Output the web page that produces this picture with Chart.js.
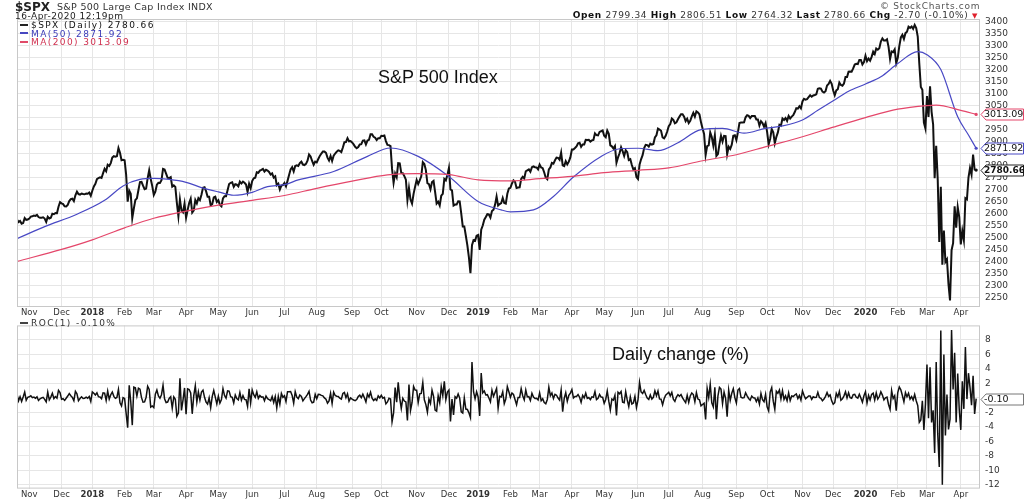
<!DOCTYPE html>
<html>
<head>
<meta charset="utf-8">
<script src="https://cdn.jsdelivr.net/npm/chart.js@4.4.1/dist/chart.umd.min.js"></script>
<style>
body { margin: 0; background: #fff; width: 1024px; height: 499px; overflow: hidden; position: relative; font-family: "DejaVu Sans", sans-serif; }
canvas { position: absolute; left: 0; }
#top { top: 0; }
#bot { top: 315px; }
.t { position: absolute; white-space: nowrap; color: #222; line-height: 1; }
.leg { position: absolute; white-space: nowrap; font-size: 9px; letter-spacing: 1.4px; line-height: 1; }
.leg i { display: inline-block; width: 8px; height: 2px; vertical-align: middle; margin-right: 3px; position: relative; top: -1px; }
.note { position: absolute; white-space: nowrap; color: #111; font-family: "Liberation Sans", Arial, sans-serif; font-size: 18px; line-height: 1; }
</style>
</head>
<body>
<canvas id="top" width="1024" height="318"></canvas>
<canvas id="bot" width="1024" height="184"></canvas>

<div class="t" style="left:15px;top:1px;font-size:12px;font-weight:bold">$SPX</div>
<div class="t" style="left:57px;top:2px;font-size:9.5px;letter-spacing:0.3px;color:#333">S&amp;P 500 Large Cap Index INDX</div>
<div class="t" style="left:15px;top:12px;font-size:9px;letter-spacing:0.5px;color:#222">16-Apr-2020 12:19pm</div>
<div class="t" style="left:880px;top:2px;font-size:9px;letter-spacing:0.7px;color:#555">&copy; StockCharts.com</div>
<div class="t" style="right:46px;top:11px;font-size:9px;letter-spacing:0.65px;color:#333"><b style="color:#111">Open</b> 2799.34 <b style="color:#111">High</b> 2806.51 <b style="color:#111">Low</b> 2764.32 <b style="color:#111">Last</b> 2780.66 <b style="color:#111">Chg</b> -2.70 (-0.10%) <span style="color:#e0202c;font-size:7px">&#9660;</span></div>

<div class="leg" style="left:20px;top:21px;color:#111"><i style="background:#222"></i>$SPX (Daily) 2780.66</div>
<div class="leg" style="left:20px;top:29.5px;color:#3a3ab8"><i style="background:#4646c0"></i>MA(50) 2871.92</div>
<div class="leg" style="left:20px;top:38px;color:#d0304f"><i style="background:#e04a68"></i>MA(200) 3013.09</div>
<div class="leg" style="left:20px;top:319px;color:#333"><i style="background:#444"></i>ROC(1) -0.10%</div>

<div class="note" style="left:378px;top:68px">S&amp;P 500 Index</div>
<div class="note" style="left:612px;top:345px">Daily change (%)</div>

<script>
// trading days shown: 20-Oct-2017 .. 16-Apr-2020
const firstDay = '2017-10-20';
const lastDay = '2020-04-16';
const holidays = ['2017-11-23', '2017-12-25', '2018-01-01', '2018-01-15', '2018-02-19', '2018-03-30', '2018-05-28',
    '2018-07-04', '2018-09-03', '2018-11-22', '2018-12-05', '2018-12-25', '2019-01-01', '2019-01-21', '2019-02-18',
    '2019-04-19', '2019-05-27', '2019-07-04', '2019-09-02', '2019-11-28', '2019-12-25', '2020-01-01', '2020-01-20',
    '2020-02-17', '2020-04-10'];
const monthNames = ['Jan', 'Feb', 'Mar', 'Apr', 'May', 'Jun', 'Jul', 'Aug', 'Sep', 'Oct', 'Nov', 'Dec'];

// $SPX daily close, one value per trading day
const spx2017 = [
    2575, 2564, 2569, 2557, 2560, 2581, 2573, 2575,
    2579, 2587, 2588, 2591, 2590, 2594, 2585, 2582, 2582, 2584, 2579, 2565, 2586, 2579, 2582, 2599, 2597, 2602, 2601, 2628, 2647,
    2642, 2639, 2630, 2629, 2636, 2652, 2660, 2662, 2652, 2676, 2691, 2681, 2679, 2683, 2681, 2680, 2683, 2682, 2687, 2674
];
const spx2018 = [
    2695, 2713, 2724, 2743, 2748, 2751, 2748, 2768, 2786, 2776, 2803, 2798, 2810, 2833, 2839, 2837, 2839, 2873, 2853, 2822, 2824,
    2822, 2762, 2649, 2695, 2682, 2581, 2620, 2656, 2663, 2698, 2731, 2732, 2716, 2701, 2704, 2747, 2780, 2744, 2714,
    2677, 2691, 2720, 2728, 2727, 2739, 2786, 2783, 2766, 2749, 2748, 2752, 2712, 2717, 2711, 2644, 2588, 2658, 2612, 2605, 2641,
    2582, 2614, 2644, 2662, 2604, 2613, 2656, 2642, 2664, 2656, 2678, 2707, 2709, 2693, 2670, 2670, 2634, 2639, 2667, 2670, 2648,
    2655, 2636, 2630, 2663, 2672, 2672, 2697, 2723, 2728, 2730, 2711, 2722, 2720, 2713, 2733, 2725, 2733, 2728, 2721, 2690, 2724, 2705,
    2735, 2747, 2749, 2772, 2770, 2779, 2782, 2786, 2775, 2782, 2779, 2773, 2762, 2767, 2750, 2755, 2718, 2724, 2700, 2716, 2718,
    2727, 2713, 2736, 2760, 2784, 2793, 2775, 2798, 2801, 2798, 2810, 2816, 2804, 2802, 2807, 2820, 2846, 2838, 2819, 2803, 2816,
    2813, 2827, 2840, 2850, 2858, 2858, 2853, 2833, 2821, 2840, 2819, 2841, 2850, 2858, 2863, 2861, 2856, 2875, 2897, 2898, 2914, 2901, 2902,
    2896, 2888, 2878, 2872, 2877, 2888, 2889, 2904, 2905, 2888, 2904, 2907, 2930, 2930, 2920, 2916, 2906, 2914, 2914,
    2924, 2923, 2925, 2902, 2886, 2885, 2881, 2786, 2728, 2767, 2751, 2810, 2809, 2769, 2768, 2756, 2741, 2656, 2706, 2658, 2641, 2682, 2712,
    2740, 2723, 2738, 2755, 2814, 2806, 2781, 2726, 2722, 2701, 2731, 2736, 2690, 2641, 2649, 2633, 2674, 2682, 2744, 2738, 2760,
    2790, 2700, 2696, 2633, 2637, 2637, 2651, 2650, 2600, 2546, 2546, 2507, 2467, 2417, 2351, 2468, 2489, 2486, 2507
];
const spx2019 = [
    2510, 2448, 2532, 2550, 2574, 2585, 2597, 2596, 2583, 2610, 2616, 2636, 2671, 2633, 2639, 2643, 2665, 2644, 2641, 2682, 2704,
    2707, 2725, 2738, 2732, 2706, 2708, 2709, 2744, 2753, 2746, 2776, 2780, 2784, 2774, 2793, 2796, 2793, 2792, 2784,
    2804, 2792, 2789, 2771, 2749, 2743, 2784, 2792, 2811, 2808, 2822, 2833, 2832, 2824, 2854, 2801, 2798, 2818, 2805, 2816, 2834,
    2867, 2867, 2873, 2880, 2893, 2895, 2878, 2888, 2888, 2907, 2906, 2907, 2900, 2905, 2907, 2934, 2927, 2926, 2940, 2943, 2946,
    2924, 2918, 2946, 2932, 2884, 2880, 2871, 2881, 2812, 2834, 2851, 2876, 2860, 2840, 2864, 2856, 2823, 2826, 2802, 2783, 2789, 2752,
    2744, 2803, 2826, 2843, 2873, 2886, 2885, 2879, 2891, 2887, 2890, 2917, 2926, 2954, 2950, 2945, 2917, 2913, 2924, 2942,
    2964, 2973, 2996, 2990, 2976, 2980, 2993, 3004, 3014, 3014, 3004, 2985, 2995, 2977, 2986, 3005, 3020, 3004, 3026, 3021, 3013, 2980,
    2954, 2932, 2844, 2881, 2884, 2938, 2919, 2883, 2926, 2840, 2848, 2889, 2924, 2900, 2924, 2923, 2847, 2878, 2869, 2887, 2924, 2926,
    2906, 2938, 2977, 2979, 2979, 2980, 3001, 3010, 3007, 2998, 3006, 3006, 3006, 2992, 2992, 2967, 2985, 2977, 2962, 2977,
    2940, 2888, 2911, 2952, 2939, 2893, 2919, 2938, 2970, 2966, 2996, 2990, 2998, 2986, 3007, 2996, 3004, 3010, 3023, 3039, 3037, 3047, 3038,
    3067, 3078, 3075, 3077, 3085, 3093, 3087, 3092, 3094, 3097, 3120, 3122, 3121, 3108, 3104, 3110, 3134, 3140, 3153, 3141,
    3113, 3093, 3113, 3118, 3146, 3136, 3133, 3142, 3169, 3169, 3191, 3192, 3191, 3205, 3221, 3224, 3223, 3240, 3240, 3221, 3231
];
const spx2020 = [
    3258, 3235, 3246, 3237, 3253, 3275, 3265, 3288, 3283, 3289, 3317, 3330, 3321, 3321, 3326, 3295, 3244, 3276, 3273, 3284, 3226,
    3249, 3298, 3334, 3345, 3328, 3352, 3358, 3379, 3374, 3380, 3370, 3386, 3373, 3338, 3226, 3128, 3116, 2979, 2954,
    3090, 3003, 3130, 3024, 2972, 2747, 2882, 2741, 2481, 2711, 2386, 2529, 2398, 2409, 2305, 2237, 2447, 2476, 2630, 2541, 2627, 2585,
    2471, 2527, 2489, 2664, 2659, 2750, 2790, 2762, 2846, 2783, 2781
];

// ROC(1), daily change in percent, one value per trading day
const roc2017 = [
    0.51, -0.40, 0.16, -0.47, 0.13, 0.81, -0.32, 0.09,
    0.16, 0.31, 0.04, 0.12, -0.04, 0.15, -0.35, -0.12, 0.00, 0.08, -0.19, -0.54, 0.81, -0.27, 0.12, 0.65, -0.08, 0.19, -0.04, 1.04, 0.73,
    -0.19, -0.11, -0.34, -0.04, 0.26, 0.60, 0.30, 0.08, -0.38, 0.91, 0.56, -0.37, -0.08, 0.15, -0.08, -0.04, 0.11, -0.04, 0.19, -0.49
];
const roc2018 = [
    0.83, 0.64, 0.40, 0.70, 0.17, 0.13, -0.11, 0.70, 0.67, -0.35, 0.94, -0.16, 0.44, 0.81, 0.22, -0.06, 0.06, 1.18, -0.67, -1.09, 0.05,
    -0.06, -2.12, -4.10, 1.74, -0.50, -3.75, 1.49, 1.39, 0.26, 1.34, 1.21, 0.04, -0.58, -0.55, 0.10, 1.60, 1.18, -1.27, -1.11,
    -1.33, 0.51, 1.10, 0.26, -0.05, 0.45, 1.74, -0.13, -0.64, -0.57, -0.08, 0.17, -1.42, 0.15, -0.18, -2.52, -2.10, 2.72, -1.73, -0.29, 1.38,
    -2.23, 1.26, 1.16, 0.69, -2.19, 0.33, 1.67, -0.55, 0.82, -0.29, 0.81, 1.07, 0.08, -0.57, -0.85, 0.01, -1.34, 0.18, 1.04, 0.11, -0.82,
    0.25, -0.72, -0.23, 1.28, 0.35, -0.03, 0.97, 0.94, 0.17, 0.09, -0.68, 0.41, -0.09, -0.26, 0.74, -0.31, 0.32, -0.20, -0.24, -1.16, 1.27, -0.69,
    1.09, 0.44, 0.07, 0.84, -0.07, 0.33, 0.11, 0.15, -0.40, 0.25, -0.11, -0.22, -0.40, 0.18, -0.63, 0.18, -1.37, 0.22, -0.86, 0.62, 0.08,
    0.31, -0.49, 0.86, 0.85, 0.88, 0.35, -0.71, 0.87, 0.11, -0.10, 0.40, 0.22, -0.40, -0.09, 0.18, 0.48, 0.91, -0.30, -0.66, -0.58, 0.49,
    -0.10, 0.49, 0.46, 0.35, 0.28, 0.00, -0.18, -0.71, -0.40, 0.64, -0.76, 0.79, 0.33, 0.24, 0.21, -0.04, -0.17, 0.62, 0.77, 0.03, 0.57, -0.44, 0.01,
    -0.17, -0.28, -0.37, -0.22, 0.19, 0.37, 0.03, 0.53, 0.03, -0.56, 0.54, 0.13, 0.78, -0.04, -0.35, -0.13, -0.33, 0.28, 0.00,
    0.36, -0.04, 0.07, -0.82, -0.55, -0.04, -0.14, -3.29, -2.06, 1.42, -0.59, 2.15, -0.03, -1.44, -0.04, -0.43, -0.55, -3.09, 1.86, -1.73, -0.66, 1.57, 1.09,
    1.06, -0.63, 0.56, 0.63, 2.12, -0.25, -0.92, -1.97, -0.15, -0.76, 1.06, 0.22, -1.66, -1.82, 0.30, -0.66, 1.55, 0.33, 2.30, -0.22, 0.82,
    1.09, -3.24, -0.15, -2.33, 0.18, -0.04, 0.54, -0.02, -1.91, -2.08, 0.01, -1.54, -1.58, -2.06, -2.71, 4.96, 0.86, -0.12, 0.85
];
const roc2019 = [
    0.13, -2.48, 3.43, 0.70, 0.97, 0.41, 0.45, -0.01, -0.53, 1.07, 0.22, 0.76, 1.32, -1.42, 0.22, 0.14, 0.85, -0.78, -0.15, 1.55, 0.86,
    0.09, 0.68, 0.47, -0.22, -0.94, 0.07, 0.07, 1.29, 0.30, -0.27, 1.09, 0.15, 0.18, -0.35, 0.64, 0.12, -0.08, -0.05, -0.28,
    0.69, -0.39, -0.11, -0.65, -0.81, -0.21, 1.47, 0.30, 0.69, -0.09, 0.50, 0.37, -0.01, -0.29, 1.09, -1.90, -0.08, 0.72, -0.46, 0.36, 0.67,
    1.16, 0.00, 0.21, 0.21, 0.46, 0.10, -0.61, 0.35, 0.00, 0.66, -0.06, 0.05, -0.23, 0.16, 0.10, 0.88, -0.22, -0.04, 0.47, 0.11, 0.10,
    -0.75, -0.21, 0.96, -0.45, -1.65, -0.16, -0.30, 0.37, -2.41, 0.80, 0.58, 0.89, -0.58, -0.67, 0.85, -0.28, -1.19, 0.14, -0.84, -0.69, 0.21, -1.32,
    -0.28, 2.14, 0.82, 0.61, 1.05, 0.47, -0.03, -0.20, 0.41, -0.16, 0.09, 0.97, 0.30, 0.95, -0.13, -0.17, -0.95, -0.12, 0.38, 0.58,
    0.77, 0.29, 0.77, -0.18, -0.48, 0.12, 0.45, 0.23, 0.46, 0.02, -0.34, -0.65, 0.36, -0.62, 0.28, 0.68, 0.47, -0.53, 0.74, -0.16, -0.26, -1.09,
    -0.90, -0.73, -2.98, 1.30, 0.08, 1.88, -0.66, -1.23, 1.48, -2.93, 0.25, 1.44, 1.21, -0.79, 0.82, -0.05, -2.59, 1.10, -0.32, 0.65, 1.27, 0.06,
    -0.69, 1.08, 1.30, 0.09, -0.01, 0.03, 0.72, 0.29, -0.07, -0.31, 0.26, 0.03, 0.00, -0.49, 0.00, -0.84, 0.62, -0.24, -0.53, 0.50,
    -1.23, -1.79, 0.80, 1.42, -0.45, -1.56, 0.91, 0.64, 1.09, -0.14, 1.00, -0.20, 0.28, -0.39, 0.69, -0.36, 0.28, 0.19, 0.41, 0.56, -0.08, 0.33, -0.30,
    0.97, 0.37, -0.12, 0.07, 0.27, 0.26, -0.20, 0.16, 0.07, 0.08, 0.77, 0.05, -0.06, -0.38, -0.16, 0.22, 0.75, 0.22, 0.42, -0.40,
    -0.86, -0.66, 0.63, 0.15, 0.91, -0.32, -0.11, 0.29, 0.86, 0.01, 0.71, 0.03, -0.04, 0.45, 0.49, 0.09, -0.02, 0.51, 0.00, -0.58, 0.29
];
const roc2020 = [
    0.84, -0.71, 0.35, -0.28, 0.49, 0.67, -0.29, 0.70, -0.15, 0.19, 0.84, 0.39, -0.27, 0.01, 0.11, -0.90, -1.57, 1.01, -0.09, 0.31, -1.77,
    0.73, 1.50, 1.13, 0.33, -0.54, 0.73, 0.17, 0.65, -0.16, 0.18, -0.29, 0.47, -0.38, -1.05, -3.35, -3.03, -0.38, -4.42, -0.82,
    4.60, -2.81, 4.22, -3.39, -1.71, -7.60, 4.94, -4.89, -9.51, 9.29, -11.98, 6.00, -5.18, 0.47, -4.34, -2.93, 9.38, 1.15, 6.24, -3.37, 3.35, -1.60,
    -4.41, 2.28, -1.51, 7.03, -0.16, 3.41, 1.45, -1.01, 3.06, -2.20, -0.10
];

// moving averages
const ma50Dates = ['2017-10-20', '2017-11-15', '2017-12-15', '2018-01-12', '2018-01-31', '2018-02-15', '2018-03-01',
    '2018-03-15', '2018-04-02', '2018-04-16', '2018-05-01', '2018-05-15', '2018-06-01', '2018-06-15', '2018-07-02',
    '2018-07-16', '2018-08-16', '2018-09-18', '2018-10-09', '2018-11-02', '2018-12-03', '2019-01-02', '2019-01-24',
    '2019-02-01', '2019-02-25', '2019-03-14', '2019-04-02', '2019-04-29', '2019-05-15', '2019-06-03', '2019-06-20',
    '2019-07-10', '2019-07-31', '2019-08-20', '2019-09-10', '2019-09-30', '2019-10-15', '2019-11-01', '2019-11-15',
    '2019-12-02', '2019-12-16', '2020-01-02', '2020-01-16', '2020-02-03', '2020-02-21', '2020-03-02', '2020-03-13',
    '2020-03-30', '2020-04-08', '2020-04-16'];
const ma50Values = [2495, 2545, 2597, 2655, 2715, 2742, 2746, 2742, 2730, 2708, 2690, 2676, 2688, 2712, 2720,
    2740, 2775, 2838, 2873, 2838, 2754, 2650, 2615, 2607, 2615, 2671, 2752, 2838, 2870, 2872, 2862,
    2895, 2950, 2955, 2935, 2955, 2965, 2990, 3030, 3070, 3110, 3140, 3170, 3225, 3275, 3262, 3200,
    3003, 2927, 2871.92];
const ma200Dates = ['2017-10-20', '2017-12-01', '2018-01-02', '2018-02-01', '2018-03-01', '2018-04-02', '2018-05-01',
    '2018-06-01', '2018-07-02', '2018-08-01', '2018-09-04', '2018-10-05', '2018-11-01', '2018-12-03', '2019-01-02',
    '2019-02-01', '2019-03-01', '2019-04-01', '2019-05-01', '2019-06-03', '2019-07-01', '2019-08-01', '2019-09-03',
    '2019-10-01', '2019-11-01', '2019-12-02', '2020-01-02', '2020-02-03', '2020-03-02', '2020-03-10', '2020-04-01',
    '2020-04-16'];
const ma200Values = [2400, 2450, 2490, 2540, 2580, 2610, 2635, 2655, 2675, 2705, 2735, 2761, 2766, 2762, 2740,
    2736, 2745, 2755, 2770, 2780, 2790, 2820, 2845, 2880, 2920, 2960, 3000, 3035, 3050, 3052, 3030, 3013.09];

const priceTicks = [2250, 2300, 2350, 2400, 2450, 2500, 2550, 2600, 2650, 2700, 2750, 2800, 2850, 2900, 2950,
    3000, 3050, 3100, 3150, 3200, 3250, 3300, 3350, 3400];
const rocTicks = [-12, -10, -8, -6, -4, -2, 0, 2, 4, 6, 8];

// ---- trading calendar ----
const iso = d => d.toISOString().slice(0, 10);
const days = [];
for (let d = new Date(firstDay + 'T00:00:00Z'); iso(d) <= lastDay; d.setUTCDate(d.getUTCDate() + 1)) {
    const wd = d.getUTCDay();
    if (wd === 0 || wd === 6 || holidays.includes(iso(d))) continue;
    days.push(iso(d));
}
const dayIndex = s => {
    const i = days.findIndex(d => d >= s);
    return i < 0 ? days.length - 1 : i;
};
const monthTicks = [], tickLabel = {}, yearTicks = new Set();
days.forEach((d, i) => {
    if (i > 0 && d.slice(5, 7) !== days[i - 1].slice(5, 7)) {
        const m = +d.slice(5, 7);
        monthTicks.push(i);
        tickLabel[i] = m === 1 ? d.slice(0, 4) : monthNames[m - 1];
        if (m === 1) yearTicks.add(i);
    }
});
const lastIdx = days.length - 1;

const spx = [...spx2017, ...spx2018, ...spx2019, ...spx2020].map((y, x) => ({ x, y }));
const roc = [...roc2017, ...roc2018, ...roc2019, ...roc2020].map((y, x) => ({ x, y }));
const ma50 = ma50Dates.map((d, i) => ({ x: dayIndex(d), y: ma50Values[i] }));
const ma200 = ma200Dates.map((d, i) => ({ x: dayIndex(d), y: ma200Values[i] }));

const gridColor = '#e6e6e6', frameColor = '#c8c8c8', tickColor = '#333';
const endDot = c => c.dataIndex === c.dataset.data.length - 1 ? 1.6 : 0;

const framePlugin = {
    id: 'frameFlags',
    afterDraw(chart, args, opts) {
        const { ctx, chartArea: a } = chart;
        ctx.save();
        ctx.strokeStyle = frameColor;
        ctx.lineWidth = 1;
        ctx.strokeRect(a.left + 0.5, a.top + 0.5, a.right - a.left - 1, a.bottom - a.top - 1);
        (opts.items || []).forEach(f => {
            const y = Math.round(chart.scales.y.getPixelForValue(f.v)) + 0.5;
            const x0 = a.right + 1;
            ctx.beginPath();
            ctx.moveTo(x0, y);
            ctx.lineTo(x0 + 5, y - 5.5);
            ctx.lineTo(1023.5, y - 5.5);
            ctx.lineTo(1023.5, y + 5.5);
            ctx.lineTo(x0 + 5, y + 5.5);
            ctx.closePath();
            ctx.fillStyle = '#fff';
            ctx.fill();
            ctx.strokeStyle = f.c;
            ctx.lineWidth = 1;
            ctx.stroke();
            ctx.fillStyle = '#111';
            ctx.font = (f.bold ? 'bold 9px' : '9.5px') + ' "DejaVu Sans"';
            ctx.textBaseline = 'middle';
            ctx.fillText(f.t, x0 + 3, y + 0.5);
        });
        ctx.restore();
    }
};

function xScale(h) {
    return {
        type: 'linear',
        min: 0,
        max: lastIdx + 2.5,
        afterBuildTicks: s => { s.ticks = monthTicks.map(v => ({ value: v })); },
        afterFit: s => { s.height = h; },
        grid: { color: gridColor, drawTicks: false },
        border: { display: false },
        ticks: {
            autoSkip: false,
            maxRotation: 0,
            padding: 1,
            color: tickColor,
            font: c => ({ family: 'DejaVu Sans', size: 8.5, weight: yearTicks.has(c.tick && c.tick.value) ? 'bold' : 'normal' }),
            callback: v => tickLabel[v] || ''
        }
    };
}

function yScale(min, max, ticks, fmt) {
    return {
        position: 'right',
        min, max,
        afterBuildTicks: s => { s.ticks = ticks.map(v => ({ value: v })); },
        afterFit: s => { s.width = 44; },
        grid: { color: gridColor, drawTicks: false },
        border: { display: false },
        ticks: { autoSkip: false, padding: 5, color: tickColor, font: { family: 'DejaVu Sans', size: 9 }, callback: fmt }
    };
}

new Chart(document.getElementById('top'), {
    type: 'line',
    data: {
        datasets: [{
            label: 'MA(200)', data: ma200, borderColor: '#e4466a', borderWidth: 1.2,
            pointRadius: endDot, pointBackgroundColor: '#e4466a', pointBorderWidth: 0, cubicInterpolationMode: 'monotone'
        }, {
            label: 'MA(50)', data: ma50, borderColor: '#4848c4', borderWidth: 1.2,
            pointRadius: endDot, pointBackgroundColor: '#4848c4', pointBorderWidth: 0, cubicInterpolationMode: 'monotone'
        }, {
            label: '$SPX', data: spx, borderColor: '#111', borderWidth: 2,
            pointRadius: endDot, pointBackgroundColor: '#111', pointBorderWidth: 0, tension: 0
        }]
    },
    options: {
        responsive: false,
        animation: false,
        layout: { padding: { left: 17, top: 19, right: 0, bottom: 0 } },
        plugins: {
            legend: { display: false },
            tooltip: { enabled: false },
            frameFlags: {
                items: [
                    { v: 3013.09, c: '#e4466a', t: '3013.09' },
                    { v: 2871.92, c: '#4848c4', t: '2871.92' },
                    { v: 2780.66, c: '#222', t: '2780.66', bold: true }
                ]
            }
        },
        scales: { x: xScale(11), y: yScale(2210, 3411, priceTicks, v => String(v)) }
    },
    plugins: [framePlugin]
});

new Chart(document.getElementById('bot'), {
    type: 'line',
    data: {
        datasets: [{
            label: 'ROC(1)', data: roc, borderColor: '#111', borderWidth: 1.5, pointRadius: 0, tension: 0
        }]
    },
    options: {
        responsive: false,
        animation: false,
        layout: { padding: { left: 17, top: 2, right: 0, bottom: 0 } },
        plugins: {
            legend: { display: false },
            tooltip: { enabled: false },
            frameFlags: { items: [{ v: -0.10, c: '#777', t: '-0.10' }] }
        },
        scales: { x: xScale(10), y: yScale(-12.5, 10, rocTicks, v => v === 0 ? '' : String(v)) }
    },
    plugins: [framePlugin]
});
</script>
</body>
</html>
